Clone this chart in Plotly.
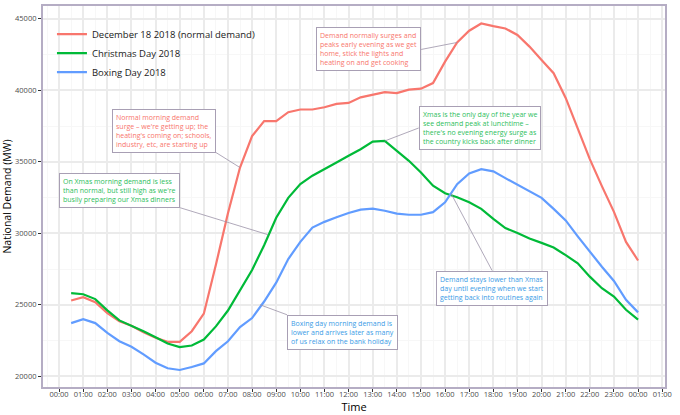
import pandas as pd
import plotly.graph_objects as go

# Half-hourly settlement periods, 00:30 through midnight
times = pd.date_range("2018-12-18 00:30", "2018-12-19 00:00", freq="30min")

# National demand (MW)
dec18 = [25300, 25530, 25180, 24420, 23840, 23540, 23080, 22690, 22410, 22410,
         23150, 24380, 27800, 31400, 34600, 36800, 37850, 37850, 38470, 38660,
         38660, 38820, 39050, 39120, 39510, 39700, 39880, 39810, 40050, 40120,
         40510, 42010, 43350, 44170, 44680, 44490, 44330, 43870, 43060, 42130,
         41200, 39470, 37380, 35190, 33300, 31500, 29400, 28100]
xmas = [25810, 25740, 25400, 24610, 23910, 23540, 23150, 22730, 22290, 22040,
        22150, 22570, 23490, 24600, 26040, 27430, 29170, 31090, 32480, 33450,
        34030, 34470, 34950, 35420, 35880, 36410, 36460, 35760, 35070, 34260,
        33330, 32800, 32520, 32170, 31710, 31010, 30370, 30020, 29630, 29330,
        29010, 28470, 27900, 26970, 26160, 25580, 24650, 23960]
boxing = [23720, 24000, 23720, 23030, 22450, 22060, 21530, 20950, 20560, 20440,
          20650, 20900, 21760, 22450, 23440, 24070, 25230, 26550, 28200, 29400,
          30400, 30800, 31120, 31420, 31660, 31720, 31580, 31380, 31300, 31300,
          31480, 32170, 33440, 34190, 34490, 34330, 33860, 33380, 32940, 32480,
          31710, 30900, 29790, 28700, 27660, 26670, 25350, 24470]

series = [
    ("December 18 2018 (normal demand)", dec18, "#F8766D"),
    ("Christmas Day 2018", xmas, "#00BA38"),
    ("Boxing Day 2018", boxing, "#619CFF"),
]

# Annotation text, the point it refers to, and the colour of its series
notes = [
    ("Normal morning demand<br>surge – we're getting up; the<br>heating's coming on; schools,<br>industry, etc, are starting up",
     "2018-12-18 07:30", 34600, "#F8766D"),
    ("On Xmas morning demand is less<br>than normal, but still high as we're<br>busily preparing our Xmas dinners",
     "2018-12-18 08:40", 29900, "#2DBE5C"),
    ("Demand normally surges and<br>peaks early evening as we get<br>home, stick the lights and<br>heating on and get cooking",
     "2018-12-18 16:30", 43350, "#F8766D"),
    ("Xmas is the only day of the year we<br>see demand peak at lunchtime –<br>there's no evening energy surge as<br>the country kicks back after dinner",
     "2018-12-18 13:30", 36460, "#2DBE5C"),
    ("Boxing day morning demand is<br>lower and arrives later as many<br>of us relax on the bank holiday",
     "2018-12-18 08:20", 25000, "#3A9BE6"),
    ("Demand stays lower than Xmas<br>day until evening when we start<br>getting back into routines again",
     "2018-12-18 16:15", 32780, "#3A9BE6"),
]
# where each box sits relative to its point (pixel offsets + anchor)
note_layout = [
    (-24, -15, "right", "bottom"),
    (-88, -27, "right", "bottom"),
    (-36, 7, "right", "middle"),
    (34, -13, "left", "middle"),
    (27, 10, "left", "top"),
    (41, 77, "center", "top"),
]

fig = go.Figure()
for name, values, colour in series:
    fig.add_trace(go.Scatter(
        x=times, y=values, name=name, mode="lines",
        line=dict(color=colour, width=2.2),
    ))

for (text, x, y, colour), (ax, ay, xa, ya) in zip(notes, note_layout):
    fig.add_annotation(
        x=x, y=y, text=text, align="left",
        showarrow=True, arrowhead=0, arrowwidth=0.8, arrowcolor="#9C93A8",
        ax=ax, ay=ay, xanchor=xa, yanchor=ya,
        font=dict(size=7, color=colour),
        bgcolor="white", bordercolor="#A89FB4", borderwidth=1, borderpad=3,
    )

fig.update_layout(
    width=680, height=415,
    margin=dict(l=40, r=15, t=4, b=28),
    plot_bgcolor="white", paper_bgcolor="white",
    font=dict(family="Open Sans, sans-serif", color="#4D4D4D"),
    showlegend=True,
    legend=dict(x=0.0144, y=0.964, xanchor="left", yanchor="top",
                bgcolor="rgba(255,255,255,0)", font=dict(size=9.5, color="#1a1a1a"),
                itemwidth=30, tracegroupgap=0),
)
fig.update_xaxes(
    range=["2018-12-17 23:20", "2018-12-19 01:07"],
    tick0="2018-12-18 00:00", dtick=3600000, tickformat="%H:%M",
    tickfont=dict(size=7.5, color="#4D4D4D"),
    ticks="outside", ticklen=3, tickcolor="#333333", ticklabelstandoff=-4,
    showgrid=True, gridcolor="#EBEBEB", gridwidth=1.6,
    minor=dict(dtick=1800000, showgrid=True, gridcolor="#F7F7F7", gridwidth=1),
    showline=True, linecolor="#B5ADC4", linewidth=2, mirror=True,
    zeroline=False,
    title=dict(text="Time", font=dict(size=11, color="black"), standoff=2),
)
fig.update_yaxes(
    range=[19250, 45900], tick0=20000, dtick=5000, tickformat="d",
    tickfont=dict(size=7.5, color="#4D4D4D"),
    ticks="outside", ticklen=3, tickcolor="#333333",
    showgrid=True, gridcolor="#EBEBEB", gridwidth=1.6,
    minor=dict(dtick=2500, showgrid=True, gridcolor="#F7F7F7", gridwidth=1),
    showline=True, linecolor="#B5ADC4", linewidth=2, mirror=True,
    zeroline=False,
    title=dict(text="National Demand (MW)", font=dict(size=10.5, color="black"), standoff=4),
)

# drop the page's default body margin so the figure sits flush in the window
fig.write_html("out.html", config={"displayModeBar": False},
               post_script="document.body.style.margin='0';")
